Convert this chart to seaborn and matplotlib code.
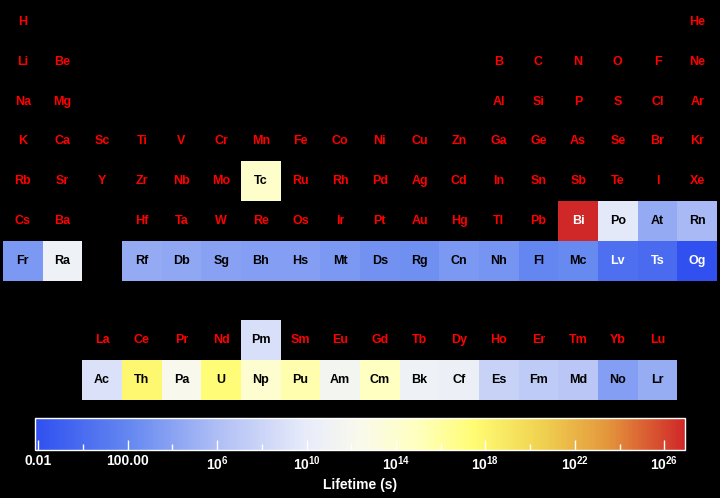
import numpy as np
import pandas as pd
import matplotlib
matplotlib.use("Agg")
import matplotlib.pyplot as plt
from matplotlib.colors import LinearSegmentedColormap
import seaborn as sns

# periodic table layout, 10 rows x 18 columns ('' = empty slot)
table_rows = [
    ["H", "", "", "", "", "", "", "", "", "", "", "", "", "", "", "", "", "He"],
    ["Li", "Be", "", "", "", "", "", "", "", "", "", "", "B", "C", "N", "O", "F", "Ne"],
    ["Na", "Mg", "", "", "", "", "", "", "", "", "", "", "Al", "Si", "P", "S", "Cl", "Ar"],
    ["K", "Ca", "Sc", "Ti", "V", "Cr", "Mn", "Fe", "Co", "Ni", "Cu", "Zn", "Ga", "Ge", "As", "Se", "Br", "Kr"],
    ["Rb", "Sr", "Y", "Zr", "Nb", "Mo", "Tc", "Ru", "Rh", "Pd", "Ag", "Cd", "In", "Sn", "Sb", "Te", "I", "Xe"],
    ["Cs", "Ba", "", "Hf", "Ta", "W", "Re", "Os", "Ir", "Pt", "Au", "Hg", "Tl", "Pb", "Bi", "Po", "At", "Rn"],
    ["Fr", "Ra", "", "Rf", "Db", "Sg", "Bh", "Hs", "Mt", "Ds", "Rg", "Cn", "Nh", "Fl", "Mc", "Lv", "Ts", "Og"],
    ["", "", "", "", "", "", "", "", "", "", "", "", "", "", "", "", "", ""],
    ["", "", "La", "Ce", "Pr", "Nd", "Pm", "Sm", "Eu", "Gd", "Tb", "Dy", "Ho", "Er", "Tm", "Yb", "Lu", ""],
    ["", "", "Ac", "Th", "Pa", "U", "Np", "Pu", "Am", "Cm", "Bk", "Cf", "Es", "Fm", "Md", "No", "Lr", ""],
]

# radioactive elements and log10 of their lifetime in seconds
rad_symbols = ["Tc", "Pm", "Bi", "Po", "At", "Rn", "Fr", "Ra",
               "Rf", "Db", "Sg", "Bh", "Hs", "Mt", "Ds", "Rg", "Cn", "Nh", "Fl", "Mc", "Lv", "Ts", "Og",
               "Ac", "Th", "Pa", "U", "Np", "Pu", "Am", "Cm", "Bk", "Cf", "Es", "Fm", "Md", "No", "Lr"]
rad_log_lifetime = [14.3, 8.9, 26.93, 9.75, 4.6, 5.68, 3.28, 10.86,
                    4.6, 4.4, 3.9, 3.7, 3.7, 3.3, 2.8, 2.7, 3.3, 3.0, 2.0, 2.2, 0.3, 0.0, -2.15,
                    9.0, 17.8, 12.17, 17.3, 13.99, 15.56, 11.53, 14.85, 10.8, 10.61, 7.77, 7.1, 6.81, 3.7, 4.76]
white_text = ["Bi", "Lv", "Ts", "Og"]

cbar_major = [-2, 2, 6, 10, 14, 18, 22, 26]
cbar_minor = [0, 4, 8, 12, 16, 20, 24]
cbar_labels = ["0.01", "100.00", "$10^{6}$", "$10^{10}$", "$10^{14}$",
               "$10^{18}$", "$10^{22}$", "$10^{26}$"]

vmin, vmax = -2.15, 26.93

lookup = dict(zip(rad_symbols, rad_log_lifetime))
grid = pd.DataFrame([[lookup.get(s, np.nan) for s in row] for row in table_rows])

stops = [(-2.15, "#3050f0"), (2, "#6487f0"), (6, "#afbef5"), (10, "#e8ecfa"),
         (12.5, "#fafaeb"), (15, "#ffffbe"), (17.5, "#fffc73"), (20.5, "#f0d250"),
         (23.5, "#e4963c"), (26.93, "#d02828")]
cmap = LinearSegmentedColormap.from_list(
    "life", [((v - vmin) / (vmax - vmin), c) for v, c in stops])

plt.rcParams['font.family'] = ['Liberation Sans', 'DejaVu Sans']
plt.rcParams['mathtext.fontset'] = 'custom'
plt.rcParams['mathtext.rm'] = 'Liberation Sans:bold'
plt.rcParams['mathtext.bf'] = 'Liberation Sans:bold'
plt.rcParams['mathtext.default'] = 'bf'

fig = plt.figure(figsize=(7.2, 4.98), dpi=100, facecolor="black")
ax = fig.add_axes([3 / 720, 1 - 400 / 498, 714 / 720, 398 / 498])
cax = fig.add_axes([35 / 720, 1 - 450 / 498, 650 / 720, 32 / 498])
ax.set_facecolor("black")

sns.heatmap(grid, mask=grid.isna(), cmap=cmap, vmin=vmin, vmax=vmax,
            ax=ax, cbar_ax=cax, cbar_kws={"orientation": "horizontal"},
            xticklabels=False, yticklabels=False, linewidths=0)

for r, row in enumerate(table_rows):
    for c, sym in enumerate(row):
        if not sym:
            continue
        if sym in lookup:
            col = "white" if sym in white_text else "black"
        else:
            col = "#ff0000"
        ax.text(c + 0.5, r + 0.5, sym, ha="center", va="center",
                color=col, fontsize=9, fontweight="bold")

cbar = ax.collections[0].colorbar
cbar.set_ticks(cbar_major)
cbar.set_ticklabels(cbar_labels)
cbar.ax.set_xticks(cbar_minor, minor=True)
cbar.ax.tick_params(which="major", direction="in", length=7, width=1,
                    color="white", labelcolor="white", labelsize=10, pad=3)
cbar.ax.tick_params(which="minor", direction="in", length=4, width=1, color="white")
for t in cbar.ax.get_xticklabels():
    t.set_fontweight("bold")
cbar.outline.set_edgecolor("white")
cbar.outline.set_linewidth(1)
cbar.set_label("Lifetime (s)", color="white", fontsize=10, fontweight="bold", labelpad=4)

fig.savefig("out.png", dpi=100, facecolor="black")
